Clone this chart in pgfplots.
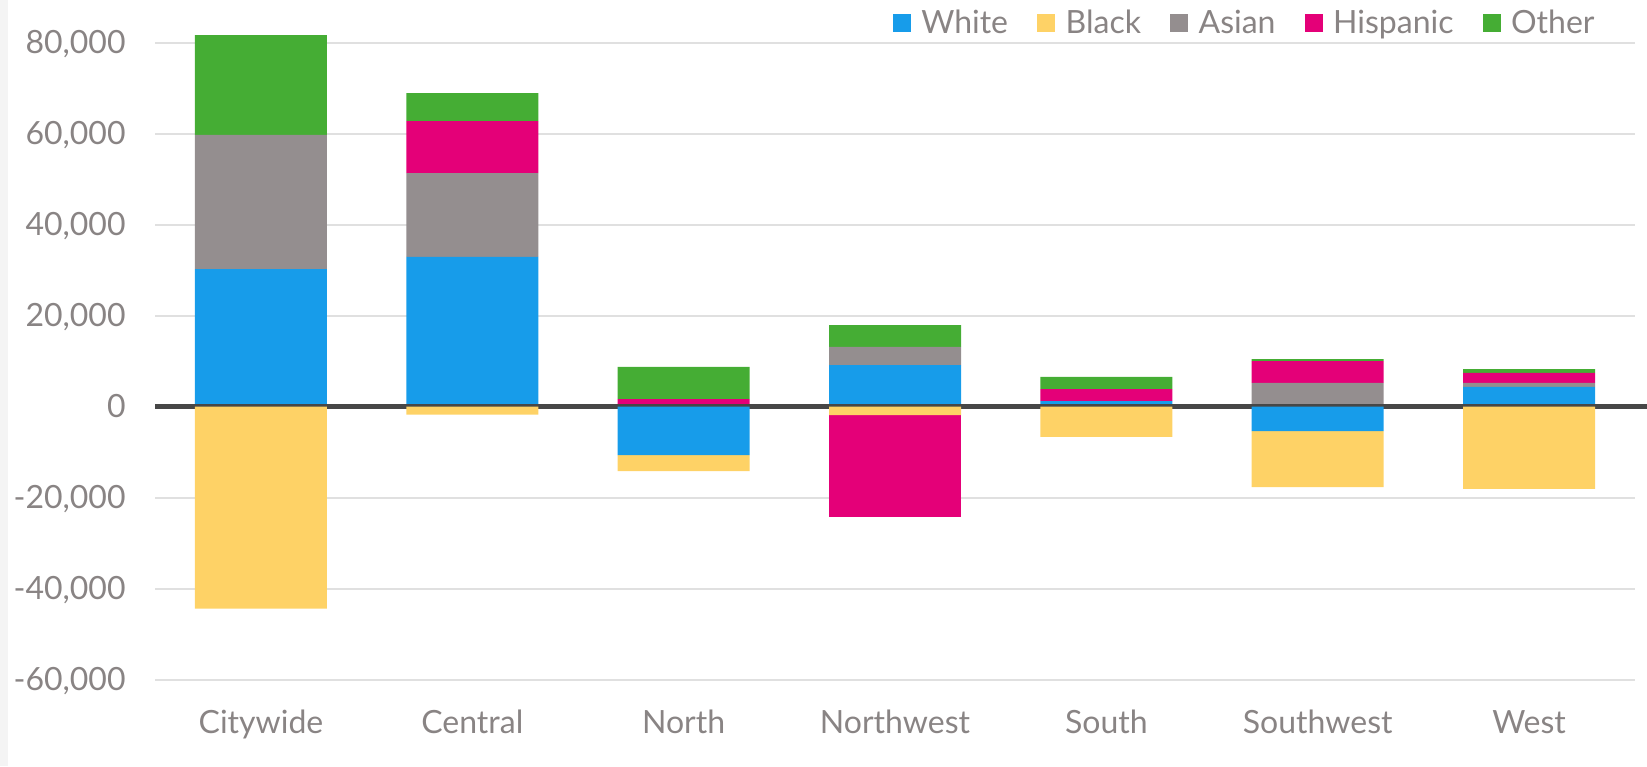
\documentclass[border=0pt]{standalone}
\usepackage{fontspec}
\setmainfont{Lato}
\usepackage{pgfplots}
\pgfplotsset{compat=1.18}
\definecolor{cWhite}{HTML}{179CEA}
\definecolor{cBlack}{HTML}{FED266}
\definecolor{cAsian}{HTML}{948E8F}
\definecolor{cHisp}{HTML}{E40078}
\definecolor{cOther}{HTML}{45AD34}
\definecolor{cText}{HTML}{898484}
\definecolor{cGrid}{HTML}{E0E0E0}
\definecolor{cZero}{HTML}{474747}
\definecolor{cStrip}{HTML}{F4F4F4}
\pgfplotsset{
  base/.style={
    scale only axis, width=739.7pt, height=341.25pt,
    xmin=-0.5, xmax=6.5, ymin=-65000, ymax=85000,
    ybar stacked, bar width=66pt,
  },
}
\begin{document}
\begin{tikzpicture}
% positive parts
\begin{axis}[base,
  axis line style={draw=none},
  tick style={draw=none},
  ymajorgrids, grid style={color=cGrid, line width=1pt},
  ytick={-60000,-40000,-20000,0,20000,40000,60000,80000},
  scaled y ticks=false,
  /pgf/number format/1000 sep={,},
  /pgf/number format/assume math mode=true,
  yticklabel style={anchor=base east, xshift=-14.65pt, yshift=-5.6pt, inner sep=0pt, font=\fontsize{16}{19}\selectfont, text=cText},
  xtick={0,1,2,3,4,5,6},
  xticklabels={Citywide,Central,North,Northwest,South,Southwest,West},
  xticklabel style={anchor=base, yshift=-15.5pt, inner sep=0pt, font=\fontsize{16}{19}\selectfont, text=cText},
  legend columns=-1,
  legend image code/.code={\fill[#1] (0pt,-4.5pt) rectangle (9pt,4.5pt);},
  legend style={draw=none, fill=none, at={(rel axis cs:1,1)}, anchor=east,
    xshift=-19.85pt, yshift=-1.7pt, inner sep=0pt,
    font=\fontsize{16}{19}\selectfont, text=cText,
    nodes={inner sep=0pt},
    /tikz/every odd column/.append style={column sep=5.3pt},
    /tikz/every even column/.append style={column sep=14.5pt}},
]
\addplot[fill=cWhite, draw=none] coordinates {(0,30200) (1,32900) (2,0) (3,9100) (4,1200) (5,0) (6,4300)};
\addplot[fill=cBlack, draw=none] coordinates {(0,0) (1,0) (2,0) (3,0) (4,0) (5,0) (6,0)};
\addplot[fill=cAsian, draw=none] coordinates {(0,29500) (1,18400) (2,0) (3,4000) (4,0) (5,5200) (6,900)};
\addplot[fill=cHisp, draw=none] coordinates {(0,0) (1,11400) (2,1600) (3,0) (4,2600) (5,4800) (6,2200)};
\addplot[fill=cOther, draw=none] coordinates {(0,21900) (1,6200) (2,7100) (3,4800) (4,2700) (5,400) (6,800)};
\legend{White,Black,Asian,Hispanic,Other}
\end{axis}
% negative parts
\begin{axis}[base, hide axis, clip=false]
\addplot[fill=cWhite, draw=none] coordinates {(0,0) (1,0) (2,-10700) (3,0) (4,0) (5,-5400) (6,0)};
\addplot[fill=cBlack, draw=none] coordinates {(0,-44400) (1,-1800) (2,-3500) (3,-1900) (4,-6700) (5,-12300) (6,-18100)};
\addplot[fill=cAsian, draw=none] coordinates {(0,0) (1,0) (2,0) (3,0) (4,0) (5,0) (6,0)};
\addplot[fill=cHisp, draw=none] coordinates {(0,0) (1,0) (2,0) (3,-22400) (4,0) (5,0) (6,0)};
\addplot[fill=cOther, draw=none] coordinates {(0,0) (1,0) (2,0) (3,0) (4,0) (5,0) (6,0)};
\draw[line width=2.5pt, color=cZero] (axis cs:-0.5,0) -- (axis cs:6.57,0);
\end{axis}
\pgfresetboundingbox
\path (-77.65pt,-31.875pt) rectangle (745.85pt,351.125pt);
\fill[cStrip] (-77.65pt,-31.875pt) rectangle (-73.65pt,351.125pt);
\end{tikzpicture}
\end{document}
